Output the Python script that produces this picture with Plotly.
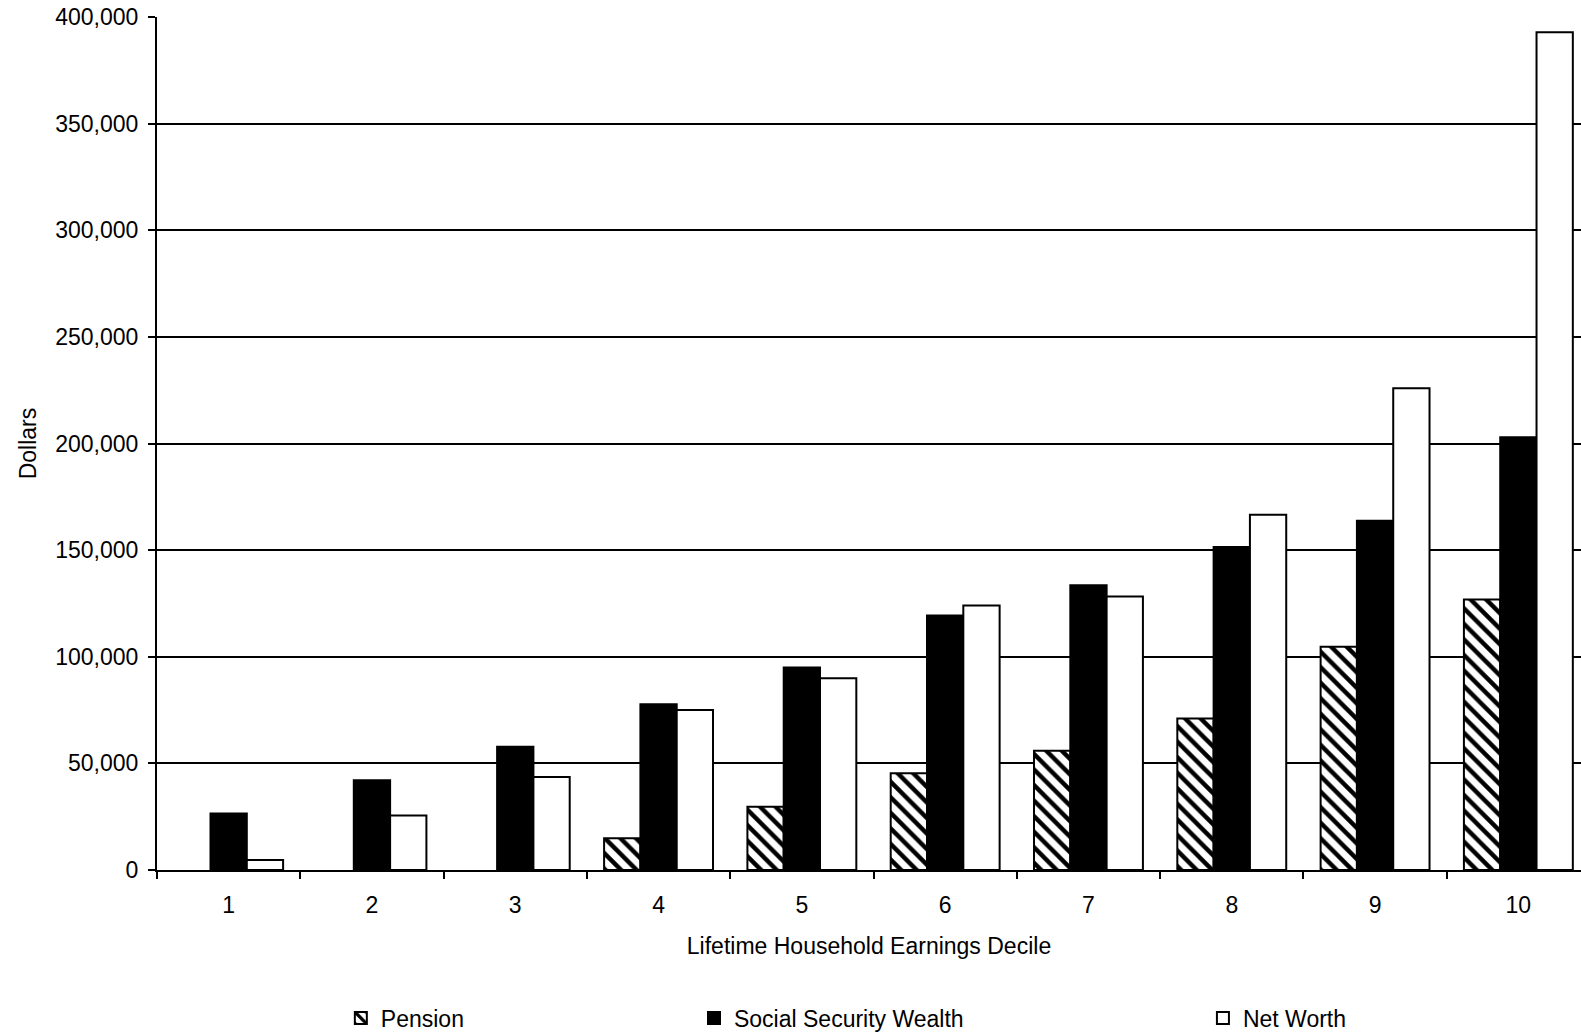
import plotly.graph_objects as go

# Lifetime household earnings deciles
deciles = ["1", "2", "3", "4", "5", "6", "7", "8", "9", "10"]

# Mean wealth by decile, dollars
pension = [0, 0, 0, 14900, 29700, 45400, 55900, 71000, 104700, 126900]
social_security_wealth = [26500, 42100, 57800, 77700, 95000, 119300, 133500, 151500, 163800, 202900]
net_worth = [4700, 25600, 43600, 75000, 89900, 124000, 128300, 166600, 225900, 392800]

y_ticks = [0, 50000, 100000, 150000, 200000, 250000, 300000, 350000, 400000]

FONT = "Arial, Liberation Sans, sans-serif"
outline = dict(color="black", width=2)


def drawn(values):
    # empty bars are left out so a zero leaves no outline on the baseline
    return [v if v else None for v in values]


fig = go.Figure()
fig.add_trace(go.Bar(
    x=deciles, y=drawn(pension), name="Pension", legend="legend",
    marker=dict(color="white", line=outline,
                pattern=dict(shape="\\", fgcolor="black", bgcolor="white",
                             fgopacity=1, fillmode="replace",
                             size=11, solidity=0.4)),
))
fig.add_trace(go.Bar(
    x=deciles, y=drawn(social_security_wealth), name="Social Security Wealth", legend="legend2",
    marker=dict(color="black", line=outline),
))
fig.add_trace(go.Bar(
    x=deciles, y=drawn(net_worth), name="Net Worth", legend="legend3",
    marker=dict(color="white", line=outline),
))

legend_common = dict(orientation="h", yanchor="middle", xanchor="left", y=-0.1735,
                     font=dict(family=FONT, size=23, color="black"),
                     bgcolor="rgba(0,0,0,0)", borderwidth=0, visible=True)

fig.update_layout(
    width=1581, height=1034,
    margin=dict(l=157, r=0, t=17, b=164, autoexpand=False),
    paper_bgcolor="white", plot_bgcolor="white",
    font=dict(family=FONT, size=23, color="black"),
    barmode="group", bargap=0.24, bargroupgap=0,
    showlegend=True,
    legend=dict(x=0.1291, **legend_common),
    legend2=dict(x=0.3771, **legend_common),
    legend3=dict(x=0.7345, **legend_common),
)

fig.update_xaxes(
    type="category", range=[-0.5, 9.437],
    tickson="boundaries", ticks="outside", ticklen=7, tickwidth=1.5, tickcolor="black",
    ticklabelstandoff=13,
    showline=True, linecolor="black", linewidth=2,
    showgrid=False, zeroline=False,
    tickfont=dict(size=23),
    title=dict(text="Lifetime Household Earnings Decile", standoff=21,
               font=dict(size=23)),
)
fig.update_yaxes(
    range=[0, 400000], tickvals=y_ticks, tickformat=",",
    ticks="outside", ticklen=7, tickwidth=1.5, tickcolor="black",
    ticklabelstandoff=5,
    showline=True, linecolor="black", linewidth=2,
    showgrid=True, gridcolor="black", gridwidth=2,
    zeroline=False,
    tickfont=dict(size=23),
    title=dict(text="Dollars", standoff=12, font=dict(size=23)),
)

fig.write_html("out.html")
